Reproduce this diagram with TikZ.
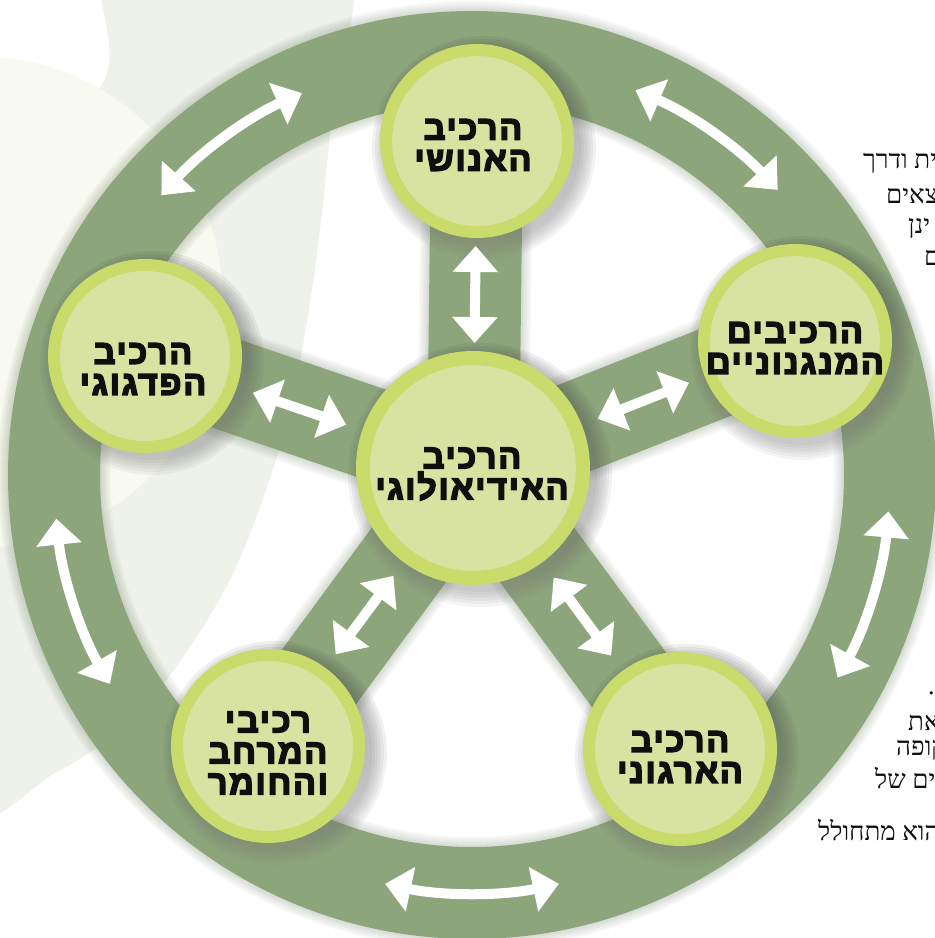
\documentclass[tikz,border=0pt]{standalone}
\usepackage{fontspec}
\usetikzlibrary{arrows.meta,calc}
\TeXXeTstate=1
\newfontfamily\hebhead[Script=Hebrew,FakeBold=4.5,LetterSpace=5]{Liberation Sans Bold}
\newfontfamily\hebtext[Script=Hebrew]{Liberation Serif}
\newcommand\rtl[1]{\beginR#1\endR}

\definecolor{ringgreen}{RGB}{140,165,123}
\definecolor{discrim}{RGB}{201,219,106}
\definecolor{discfill}{RGB}{216,227,162}
\definecolor{bandgray}{RGB}{239,242,235}
\definecolor{creamy}{RGB}{248,249,239}
\definecolor{shade}{RGB}{90,110,80}
\definecolor{ink}{RGB}{15,15,15}

\tikzset{
  disc/.style={circle, fill=discfill, draw=discrim, line width=12pt,
    minimum size=182pt, inner sep=0pt},
  hubdisc/.style={disc, line width=14pt, minimum size=220pt},
  headtext/.style={font=\hebhead\fontsize{34}{31}\selectfont, text=ink,
    align=center, inner sep=0pt},
  bodytext/.style={font=\hebtext\fontsize{26}{30}\selectfont, text=ink,
    anchor=west, inner sep=0pt},
  whitearrow/.style={draw=white, line width=10pt,
    {Triangle[width=44pt,length=26pt]}-{Triangle[width=44pt,length=26pt]}},
  spoke/.style={draw=ringgreen, line width=92pt},
}

\begin{document}
\begin{tikzpicture}[x=1pt,y=1pt]
\useasboundingbox (0,0) rectangle (935,938);

% pale background shapes
\fill[bandgray] plot[smooth cycle] coordinates {(110,990) (343,990) (330,805)
  (313,655) (285,508) (230,358) (150,238) (60,168) (-60,140) (-60,700) (103,855)};
\fill[creamy] (-23,636) circle (246);

% centres of the wheel parts
\coordinate (O) at (472,463);
\coordinate (pc) at (473,470);
\coordinate (pt) at (477,797);
\coordinate (pr) at (795,597);
\coordinate (pbr) at (680,189);
\coordinate (pbl) at (268,192);
\coordinate (pl) at (145,582);

% soft drop shadow of rim and spokes
\foreach \k in {0,...,5}{
  \begin{scope}[shift={(9,-9)}, draw=shade, draw opacity=0.05]
    \draw[line width=92pt+4pt*\k] (O) circle (418);
    \foreach \p in {pt,pr,pbr,pbl,pl}
      \draw[line width=92pt+4pt*\k] (pc) -- (\p);
  \end{scope}
}

% rim and spokes
\draw[ringgreen, line width=92pt] (O) circle (418);
\foreach \p in {pt,pr,pbr,pbl,pl}
  \draw[spoke] (pc) -- (\p);

% arrows running along the rim
\foreach \a in {126,55,-17,-90,198}{
  \draw[whitearrow] ($(O)+(\a-12:418)$) arc[start angle=\a-12, end angle=\a+12, radius=418];
}

% shadows of the discs
\foreach \p/\r in {pc/117,pt/97,pr/97,pbr/97,pbl/97,pl/97}{
  \foreach \k in {0,...,5}
    \fill[shade, opacity=0.045] ($(\p)+(7,-7)$) circle (\r+3*\k);
}

% discs
\node[hubdisc] (hub) at (pc) {};
\node[disc] (top) at (pt) {};
\node[disc] (right) at (pr) {};
\node[disc] (botright) at (pbr) {};
\node[disc] (botleft) at (pbl) {};
\node[disc] (left) at (pl) {};

% arrows along the spokes
\draw[whitearrow, shorten <=8pt, shorten >=8pt] (top) -- (hub);
\draw[whitearrow, shorten <=17pt, shorten >=17pt] (left) -- (hub);
\draw[whitearrow, shorten <=17pt, shorten >=17pt] (hub) -- (right);
\draw[whitearrow, shorten <=19pt, shorten >=19pt] (hub) -- (botright);
\draw[whitearrow, shorten <=17pt, shorten >=17pt] (hub) -- (botleft);

% disc captions
\node[headtext] (t-hub) at (472,464) {\rtl{הרכיב}\\\rtl{האידיאולוגי}};
\node[headtext] (t-top) at (473,793) {\rtl{הרכיב}\\\rtl{האנושי}};
\node[headtext] (t-right) at (795,590) {\rtl{הרכיבים}\\\rtl{המנגנוניים}};
\node[headtext] (t-botright) at (680,181) {\rtl{הרכיב}\\\rtl{הארגוני}};
\node[headtext] (t-botleft) at (268,185) {\rtl{רכיבי}\\\rtl{המרחב}\\\rtl{והחומר}};
\node[headtext] (t-left) at (143,569) {\rtl{הרכיב}\\\rtl{הפדגוגי}};

% running text beside the wheel
\node[bodytext] (r1) at (863,775) {\rtl{ית ודרך}};
\node[bodytext] (r2) at (886,742) {\rtl{צאים}};
\node[bodytext] (r3) at (908,710) {\rtl{ינן}};
\node[bodytext] (r4) at (924,680) {\rtl{ם}};
\node[bodytext] (r5) at (928,245) {.};
\node[bodytext] (r6) at (908,215) {\rtl{את}};
\node[bodytext] (r7) at (896,188) {\rtl{קופה}};
\node[bodytext] (r8) at (875,160) {\rtl{ים של}};
\node[bodytext] (r9) at (818,108) {\rtl{הוא מתחולל}};
\end{tikzpicture}
\end{document}
